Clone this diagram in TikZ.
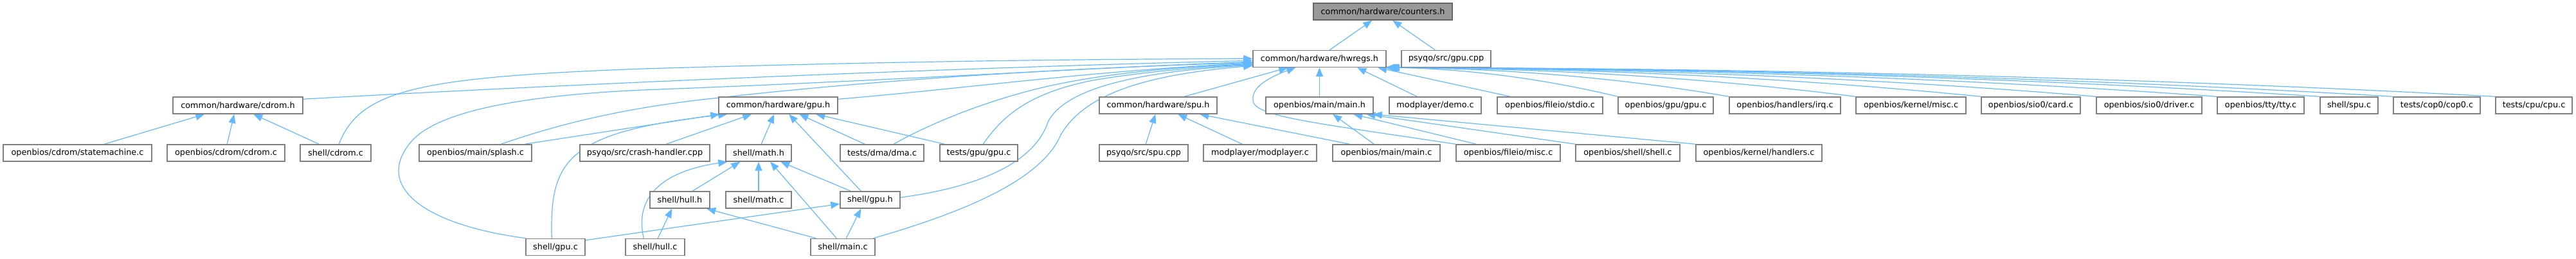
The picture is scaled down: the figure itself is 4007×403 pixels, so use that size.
\documentclass[tikz,border=0pt]{standalone}
\usepackage{fontspec}
\setmainfont{DejaVu Sans}
\usetikzlibrary{arrows.meta}
\definecolor{edgecol}{HTML}{63B8FF}
\definecolor{boxline}{HTML}{808080}
\definecolor{rootfill}{HTML}{999999}
\definecolor{rootline}{HTML}{666666}
\pgfdeclarelayer{edgelayer}
\pgfsetlayers{edgelayer,main}
\newcommand\mknode[5]{\node[box, minimum width=#3pt] (#1) at (#2,#4) {#5};}
\begin{document}
\begin{tikzpicture}[x=1pt,y=-1pt,
  font=\fontsize{12.8}{15}\selectfont,
  box/.style={draw=boxline, line width=1.5pt, fill=white, minimum height=26pt, inner sep=0pt, text=black},
  rootbox/.style={box, fill=rootfill, draw=rootline},
  edge/.style={draw=edgecol, line width=1.2pt, -{Triangle[length=14pt,width=11pt]}}]
\useasboundingbox (0,0) rectangle (4007,403);
% row 1
\node[rootbox, minimum width=216pt] (counters) at (2151,18) {common/hardware/counters.h};
% row 2
\mknode{hwregs}{2052.5}{207}{91.5}{common/hardware/hwregs.h}
\mknode{gpucpp}{2249.5}{139}{91.5}{psyqo/src/gpu.cpp}
% row 3
\mknode{cdromh}{370}{202}{164}{common/hardware/cdrom.h}
\mknode{gpuh}{1210.5}{185}{164}{common/hardware/gpu.h}
\mknode{spuh}{1801.5}{183}{164}{common/hardware/spu.h}
\mknode{mainh}{2052.5}{167}{164}{openbios/main/main.h}
\mknode{demo}{2232.5}{143}{164}{modplayer/demo.c}
\mknode{stdio}{2411}{164}{164}{openbios/fileio/stdio.c}
\mknode{obgpu}{2591}{148}{164}{openbios/gpu/gpu.c}
\mknode{irq}{2776.5}{173}{164}{openbios/handlers/irq.c}
\mknode{kmisc}{2972.5}{171}{164}{openbios/kernel/misc.c}
\mknode{card}{3159}{154}{164}{openbios/sio0/card.c}
\mknode{driver}{3343}{164}{164}{openbios/sio0/driver.c}
\mknode{tty}{3516.5}{135}{164}{openbios/tty/tty.c}
\mknode{shspu}{3654}{90}{164}{shell/spu.c}
\mknode{cop0}{3790.5}{135}{164}{tests/cop0/cop0.c}
\mknode{cpu}{3941.5}{119}{164}{tests/cpu/cpu.c}
% row 4
\mknode{statemachine}{120.5}{231}{238}{openbios/cdrom/statemachine.c}
\mknode{cdromc}{351.5}{183}{238}{openbios/cdrom/cdrom.c}
\mknode{shcdrom}{522}{110}{238}{shell/cdrom.c}
\mknode{splash}{739.5}{175}{238}{openbios/main/splash.c}
\mknode{crash}{1003}{202}{238}{psyqo/src/crash-handler.cpp}
\mknode{mathh}{1180}{102}{238}{shell/math.h}
\mknode{dma}{1372}{130}{238}{tests/dma/dma.c}
\mknode{testgpu}{1522.5}{121}{238}{tests/gpu/gpu.c}
\mknode{spucpp}{1779}{138}{238}{psyqo/src/spu.cpp}
\mknode{modplayer}{1960}{176}{238}{modplayer/modplayer.c}
\mknode{mainc}{2156.5}{167}{238}{openbios/main/main.c}
\mknode{fmisc}{2346}{162}{238}{openbios/fileio/misc.c}
\mknode{shell}{2532}{162}{238}{openbios/shell/shell.c}
\mknode{khandlers}{2736}{196}{238}{openbios/kernel/handlers.c}
% row 5
\mknode{hullh}{1057.5}{93}{311}{shell/hull.h}
\mknode{mathc}{1180}{102}{311}{shell/math.c}
\mknode{shgpuh}{1353.5}{93}{311}{shell/gpu.h}
% row 6
\mknode{shgpuc}{864}{92}{384.5}{shell/gpu.c}
\mknode{hullc}{1019}{92}{384.5}{shell/hull.c}
\mknode{shmainc}{1311}{100}{384.5}{shell/main.c}

\begin{pgfonlayer}{edgelayer}
% to counters
\draw[edge] ([xshift=120pt]hwregs.north west) -- ([xshift=92pt]counters.south west);
\draw[edge] ([xshift=53pt]gpucpp.north west) -- ([xshift=124pt]counters.south west);
% to cdrom.h
\draw[edge] ([xshift=158pt]statemachine.north west) -- ([xshift=50pt]cdromh.south west);
\draw[edge] ([xshift=94pt]cdromc.north west) -- ([xshift=96pt]cdromh.south west);
\draw[edge] ([xshift=30pt]shcdrom.north west) -- ([xshift=126pt]cdromh.south west);
% to gpu.h
\draw[edge] ([xshift=165pt]splash.north west) -- ([xshift=2pt]gpuh.south west);
\draw[edge] ([xshift=41pt]shgpuc.north west) .. controls (855,250) and (880,205) .. ([xshift=14pt]gpuh.south west);
\draw[edge] ([xshift=135pt]crash.north west) -- ([xshift=52pt]gpuh.south west);
\draw[edge] ([xshift=56pt]mathh.north west) -- ([xshift=87pt]gpuh.south west);
\draw[edge] ([xshift=33pt]shgpuh.north west) -- ([xshift=110pt]gpuh.south west);
\draw[edge] ([xshift=39pt]dma.north west) -- ([xshift=126pt]gpuh.south west);
\draw[edge] ([xshift=8pt]testgpu.north west) -- ([xshift=152pt]gpuh.south west);
% to math.h
\draw[edge] ([xshift=67pt]hullh.north west) -- ([xshift=23pt]mathh.south west);
\draw[edge] (mathc.north) -- (mathh.south);
\draw[edge] ([xshift=41pt]shmainc.north west) -- ([xshift=70pt]mathh.south west);
\draw[edge] ([xshift=17pt]shgpuh.north west) -- ([xshift=86pt]mathh.south west);
\draw[edge] ([xshift=29pt]hullc.north west) .. controls (985,300) and (1040,265) .. ([xshift=3pt]mathh.south west);
% to hull.h
\draw[edge] ([xshift=51pt]hullc.north west) -- ([xshift=35pt]hullh.south west);
\draw[edge] ([xshift=9pt]shmainc.north west) -- ([xshift=89pt]hullh.south west);
% to shell/gpu.h
\draw[edge] ([yshift=-3pt]shgpuc.north east) -- ([yshift=-20pt]shgpuh.north west);
\draw[edge] ([xshift=56pt]shmainc.north west) -- ([xshift=33pt]shgpuh.south west);
% to spu.h
\draw[edge] ([xshift=73pt]spucpp.north west) -- ([xshift=88pt]spuh.south west);
\draw[edge] ([xshift=61pt]modplayer.north west) -- ([xshift=123pt]spuh.south west);
\draw[edge] ([xshift=27pt]mainc.north west) -- ([xshift=157pt]spuh.south west);
% to main.h
\draw[edge] ([xshift=65pt]mainc.north west) -- ([xshift=105pt]mainh.south west);
\draw[edge] ([xshift=32pt]fmisc.north west) -- ([xshift=137pt]mainh.south west);
\draw[edge] (shell.north west) -- ([xshift=157pt]mainh.south west);
\draw[edge] (khandlers.north west) -- ([xshift=-1pt]mainh.south east);
% to hwregs.h, from the left
\draw[edge] ([xshift=61pt]shcdrom.north west) .. controls (560,140) and (650,120) .. (1000,107) .. controls (1400,95) and (1700,92) .. ([yshift=-13.5pt]hwregs.north west);
\draw[edge] ([yshift=-4pt]cdromh.north east) .. controls (900,130) and (1500,105) .. ([yshift=-16.5pt]hwregs.north west);
\draw[edge] ([xshift=1pt]shgpuc.north west) .. controls (660,350) and (580,290) .. (640,220) .. controls (675,180) and (780,150) .. (1000,140) .. controls (1400,125) and (1700,105) .. ([yshift=-18.5pt]hwregs.north west);
\draw[edge] ([xshift=128pt]splash.north west) .. controls (850,200) and (950,170) .. (1110,153) .. controls (1400,120) and (1700,105) .. ([yshift=-19.5pt]hwregs.north west);
\draw[edge] ([yshift=-4pt]gpuh.north east) .. controls (1500,138) and (1700,110) .. ([yshift=-20.5pt]hwregs.north west);
\draw[edge] ([xshift=84pt]dma.north west) .. controls (1450,190) and (1550,150) .. (1650,130) .. controls (1750,110) and (1850,104) .. ([yshift=-21.5pt]hwregs.north west);
\draw[edge] ([xshift=68pt]testgpu.north west) .. controls (1560,180) and (1600,145) .. (1700,125) .. controls (1800,108) and (1900,103) .. ([yshift=-22.5pt]hwregs.north west);
\draw[edge] ([yshift=-10pt]shgpuh.north east) .. controls (1530,290) and (1610,250) .. (1630,190) .. controls (1660,130) and (1800,110) .. ([yshift=-23.5pt]hwregs.north west);
\draw[edge] ([xshift=98pt]shmainc.north west) .. controls (1500,330) and (1620,280) .. (1650,210) .. controls (1690,140) and (1800,115) .. ([yshift=-24.5pt]hwregs.north west);
% to hwregs.h, from below
\draw[edge] ([xshift=133pt]spuh.north west) -- ([xshift=55pt]hwregs.south west);
\draw[edge] (fmisc.north west) .. controls (2050,192) and (1960,182) .. (1950,160) .. controls (1942,135) and (1980,118) .. ([xshift=67pt]hwregs.south west);
\draw[edge] (mainh.north) -- (hwregs.south);
\draw[edge] ([xshift=44pt]demo.north west) -- ([xshift=163pt]hwregs.south west);
\draw[edge] ([xshift=21pt]stdio.north west) -- ([xshift=195pt]hwregs.south west);
% to hwregs.h, from the right
\draw[edge] (obgpu.north west) .. controls (2391,120) and (2265,106) .. ([xshift=-2pt]hwregs.south east);
\draw[edge] (irq.north west) .. controls (2503,118) and (2317,106) .. ([xshift=-1pt]hwregs.south east);
\draw[edge] (kmisc.north west) .. controls (2631,118) and (2376,106) .. (hwregs.south east);
\draw[edge] (card.north west) .. controls (2758,118) and (2435,106) .. ([xshift=1pt]hwregs.south east);
\draw[edge] (driver.north west) .. controls (2875,118) and (2488,106) .. ([xshift=2pt]hwregs.south east);
\draw[edge] (tty.north west) .. controls (2997,118) and (2545,106) .. ([xshift=3pt]hwregs.south east);
\draw[edge] (shspu.north west) .. controls (3101,118) and (2593,106) .. ([xshift=4pt]hwregs.south east);
\draw[edge] (cop0.north west) .. controls (3175,118) and (2627,106) .. ([xshift=5pt]hwregs.south east);
\draw[edge] (cpu.north west) .. controls (3278,118) and (2675,106) .. ([xshift=6pt]hwregs.south east);
\end{pgfonlayer}
\end{tikzpicture}
\end{document}
